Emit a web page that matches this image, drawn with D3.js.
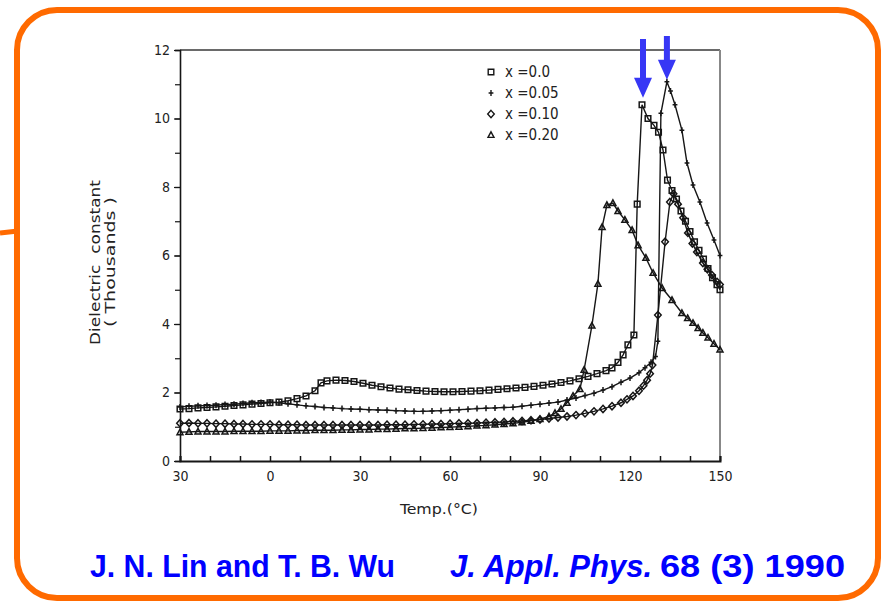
<!DOCTYPE html>
<html>
<head>
<meta charset="utf-8">
<script src="https://cdn.jsdelivr.net/npm/d3@7"></script>
<style>
  html, body { margin: 0; padding: 0; background: #ffffff; }
  svg { display: block; }
  .tick text { font-family: "DejaVu Sans", sans-serif; font-stretch: condensed; }
</style>
</head>
<body>
<svg id="chart" width="886" height="608"></svg>
<script>
// ---------------- DATA ----------------
const seriesNames = ["x =0.0", "x =0.05", "x =0.10", "x =0.20"];

// x = 0.0 (squares)
const tempX00 = [-30,-27,-24,-21,-18,-15,-12,-9,-6,-3,0,3,6,9,12,15,17,19,22,25,28,31,34,37,40,43,46,49,52,55,58,61,64,67,70,73,76,79,82,85,88,91,94,97,100,103,106,109,112,114,116,117.7,119.3,121.3,122.4,124,126,128,129.5,131,132.5,134,135.5,137,138.5,140,141.5,143,144.5,146,147.5,149,150];
const valX00  = [1.52,1.53,1.55,1.56,1.58,1.60,1.62,1.64,1.66,1.68,1.70,1.72,1.76,1.82,1.90,2.05,2.28,2.34,2.36,2.35,2.32,2.27,2.21,2.17,2.13,2.10,2.08,2.06,2.04,2.03,2.02,2.02,2.03,2.04,2.05,2.07,2.09,2.11,2.13,2.15,2.18,2.21,2.25,2.29,2.34,2.40,2.47,2.55,2.64,2.72,2.88,3.10,3.39,3.68,7.50,10.40,10.00,9.80,9.60,9.08,8.20,7.90,7.65,7.30,7.00,6.70,6.40,6.15,5.90,5.62,5.35,5.15,5.00];

// x = 0.05 (plus)
const tempX05 = [-30,-27,-24,-21,-18,-15,-12,-9,-6,-3,0,3,6,9,12,15,18,21,24,27,30,33,36,39,42,45,48,51,54,57,60,63,66,69,72,75,78,81,84,87,90,93,96,99,102,105,108,111,114,117,120,123,125,127,128.5,129.3,130.3,132.3,133.5,135,137.3,139,141,143.3,145.7,148,150];
const valX05  = [1.58,1.60,1.61,1.62,1.63,1.65,1.66,1.68,1.70,1.71,1.72,1.70,1.67,1.64,1.61,1.59,1.56,1.55,1.53,1.52,1.51,1.50,1.49,1.48,1.47,1.46,1.45,1.45,1.46,1.47,1.48,1.50,1.51,1.53,1.54,1.55,1.56,1.57,1.60,1.63,1.66,1.69,1.72,1.78,1.84,1.91,1.98,2.07,2.17,2.30,2.42,2.58,2.72,2.88,3.05,3.50,10.15,11.07,10.80,10.40,9.66,8.70,8.06,7.56,6.95,6.45,6.00];

// x = 0.10 (diamonds)
const tempX10 = [-30,-27,-24,-21,-18,-15,-12,-9,-6,-3,0,3,6,9,12,15,18,21,24,27,30,33,36,39,42,45,48,51,54,57,60,63,66,69,72,75,78,81,84,87,90,93,96,99,102,105,108,111,114,117,119,121,123,124.5,125.7,126.7,127.5,129.3,131.7,133.3,134.5,136,137.7,139.3,140.8,142.3,144.3,145.8,147.3,149,150];
const valX10  = [1.10,1.11,1.10,1.10,1.09,1.09,1.08,1.08,1.07,1.07,1.07,1.06,1.06,1.06,1.05,1.05,1.05,1.05,1.05,1.05,1.05,1.05,1.05,1.06,1.06,1.06,1.07,1.07,1.08,1.08,1.09,1.10,1.10,1.11,1.12,1.13,1.14,1.16,1.17,1.19,1.21,1.24,1.27,1.30,1.34,1.39,1.45,1.52,1.60,1.70,1.80,1.90,2.05,2.20,2.36,2.55,2.80,4.26,6.40,7.56,7.80,7.50,7.10,6.66,6.35,6.10,5.78,5.60,5.43,5.23,5.15];

// x = 0.20 (triangles)
const tempX20 = [-30,-27,-24,-21,-18,-15,-12,-9,-6,-3,0,3,6,9,12,15,18,21,24,27,30,33,36,39,42,45,48,51,54,57,60,63,66,69,72,75,78,81,84,87,90,93,95,97,99,101,103.3,104.7,107.3,109.3,110.7,112.3,114.3,116,118.3,120.7,122.7,125.3,127.7,130.7,134,137.3,139.2,141,142.7,144.3,146,148,150];
const valX20  = [0.84,0.85,0.86,0.86,0.86,0.86,0.87,0.87,0.87,0.87,0.88,0.88,0.88,0.89,0.89,0.90,0.90,0.90,0.91,0.91,0.92,0.92,0.93,0.93,0.94,0.95,0.95,0.96,0.97,0.98,0.99,1.00,1.01,1.03,1.04,1.06,1.08,1.10,1.13,1.17,1.22,1.30,1.40,1.52,1.70,1.90,2.10,2.66,3.95,5.17,6.83,7.47,7.53,7.30,7.04,6.74,6.30,5.93,5.49,5.05,4.70,4.32,4.17,4.03,3.88,3.74,3.60,3.42,3.25];

// Axes
const xTickValues = [-30, 0, 30, 60, 90, 120, 150];
const xTickLabels = ["30", "0", "30", "60", "90", "120", "150"];
const xMinorTicks = [-30,-20,-10,0,10,20,30,40,50,60,70,80,90,100,110,120,130,140,150];
const yTickValues = [0, 2, 4, 6, 8, 10, 12];
const yTickLabels = ["0", "2", "4", "6", "8", "10", "12"];
const yMinorTicks = [0,1,2,3,4,5,6,7,8,9,10,11,12];

const xTitle = "Temp.(°C)";
const yTitle1 = "Dielectric  constant";
const yTitle2 = "( Thousands )";
const citeAuthors = "J. N. Lin and T. B. Wu";
const citeJournal = "J. Appl. Phys.";
const citeVolume = "68 (3) 1990";

// ---------------- DRAWING ----------------
const svg = d3.select("#chart");
const x = d3.scaleLinear().domain([-30, 150]).range([180, 720]);
const y = d3.scaleLinear().domain([0, 12]).range([461, 50]);
const ink = "#161616";
const labelFont = "DejaVu Sans, sans-serif";

// Orange rounded frame
svg.append("rect")
  .attr("x", 17).attr("y", 10).attr("width", 861).attr("height", 588)
  .attr("rx", 40).attr("ry", 40)
  .attr("fill", "none").attr("stroke", "#ff6a00").attr("stroke-width", 6);
svg.append("path")
  .attr("d", "M0,233 L18,231")
  .attr("fill", "none").attr("stroke", "#ff6a00").attr("stroke-width", 5);

// Frame (top and right, grey)
svg.append("line").attr("x1", x(-30)).attr("x2", x(150)).attr("y1", y(12)).attr("y2", y(12))
  .attr("stroke", "#6a6a6a").attr("stroke-width", 2);
svg.append("line").attr("x1", x(150)).attr("x2", x(150)).attr("y1", y(12)).attr("y2", y(0))
  .attr("stroke", "#888").attr("stroke-width", 2);

// X axis
const gx = svg.append("g").attr("transform", `translate(0,${y(0)})`);
gx.call(d3.axisBottom(x).tickValues(xMinorTicks).tickSize(-5).tickFormat(""));
gx.select(".domain").attr("stroke", ink).attr("stroke-width", 2);
gx.selectAll(".tick line").attr("stroke", ink).attr("stroke-width", 1.5);
const gxl = svg.append("g").attr("transform", `translate(0,${y(0)})`);
gxl.call(d3.axisBottom(x).tickValues(xTickValues).tickSize(0).tickPadding(10)
  .tickFormat((d, i) => xTickLabels[i]));
gxl.select(".domain").remove();
gxl.selectAll(".tick text").attr("font-size", 14).attr("fill", "#222");

// Y axis
const gy = svg.append("g").attr("transform", `translate(${x(-30)},0)`);
gy.call(d3.axisLeft(y).tickValues(yMinorTicks).tickSize(5).tickFormat(""));
gy.select(".domain").attr("stroke", ink).attr("stroke-width", 1.6);
gy.selectAll(".tick line").attr("stroke", ink).attr("stroke-width", 1.2);
const gyl = svg.append("g").attr("transform", `translate(${x(-30)},0)`);
gyl.call(d3.axisLeft(y).tickValues(yTickValues).tickSize(6).tickPadding(4)
  .tickFormat((d, i) => yTickLabels[i]));
gyl.select(".domain").remove();
gyl.selectAll(".tick line").attr("stroke", ink).attr("stroke-width", 1.2);
gyl.selectAll(".tick text").attr("font-size", 14).attr("fill", "#222");

// Axis titles
svg.append("text").attr("x", 400).attr("y", 514)
  .attr("font-family", labelFont).attr("font-stretch", "condensed")
  .attr("font-size", 14).attr("fill", "#222")
  .attr("textLength", 78).attr("lengthAdjust", "spacingAndGlyphs").text(xTitle);
svg.append("text").attr("transform", "translate(100,345) rotate(-90)")
  .attr("font-family", labelFont).attr("font-stretch", "condensed")
  .attr("font-size", 14).attr("fill", "#222").attr("xml:space", "preserve")
  .attr("textLength", 165).attr("lengthAdjust", "spacingAndGlyphs").text(yTitle1);
svg.append("text").attr("transform", "translate(115,327) rotate(-90)")
  .attr("font-family", labelFont).attr("font-stretch", "condensed")
  .attr("font-size", 14).attr("fill", "#222")
  .attr("textLength", 130).attr("lengthAdjust", "spacingAndGlyphs").text(yTitle2);

// Marker shapes
const markers = [
  (cx, cy) => `M${cx-2.8},${cy-2.8}h5.6v5.6h-5.6Z`,
  (cx, cy) => `M${cx-2.4},${cy}h4.8M${cx},${cy-3}v6`,
  (cx, cy) => `M${cx},${cy-3.6}L${cx+3.3},${cy}L${cx},${cy+3.6}L${cx-3.3},${cy}Z`,
  (cx, cy) => `M${cx},${cy-3.2}L${cx+3},${cy+2.4}L${cx-3},${cy+2.4}Z`
];

const allSeries = [
  { t: tempX00, v: valX00 },
  { t: tempX05, v: valX05 },
  { t: tempX10, v: valX10 },
  { t: tempX20, v: valX20 }
];

const line = d3.line().x(d => x(d[0])).y(d => y(d[1]));
allSeries.forEach((s, k) => {
  const pts = s.t.map((t, i) => [t, s.v[i]]);
  svg.append("path").datum(pts).attr("d", line)
    .attr("fill", "none").attr("stroke", ink).attr("stroke-width", 1.4);
  svg.append("g").selectAll("path").data(pts).join("path")
    .attr("d", d => markers[k](x(d[0]), y(d[1])))
    .attr("fill", "none").attr("stroke", ink).attr("stroke-width", 1.5);
});

// Legend
const legendX = 491, legendY = 72, legendStep = 21;
seriesNames.forEach((name, k) => {
  const cy = legendY + k * legendStep;
  svg.append("path").attr("d", markers[k](legendX, cy))
    .attr("fill", "none").attr("stroke", ink).attr("stroke-width", 1.4);
  svg.append("text").attr("x", legendX + 14).attr("y", cy + 5)
    .attr("font-family", labelFont).attr("font-stretch", "condensed")
    .attr("font-size", 15).attr("fill", "#222").text(name);
});

// Blue arrows pointing to the two peaks
const peakIdx0 = valX00.indexOf(d3.max(valX00));
const peakIdx1 = valX05.indexOf(d3.max(valX05));
const arrows = [
  { px: x(tempX00[peakIdx0]) + 1, tip: y(valX00[peakIdx0]) - 7, top: 39 },
  { px: x(tempX05[peakIdx1]), tip: y(valX05[peakIdx1]) - 2, top: 36 }
];
arrows.forEach(a => {
  const headH = 20, headW = 9, shaftW = 3;
  svg.append("path")
    .attr("d", `M${a.px-shaftW},${a.top}L${a.px+shaftW},${a.top}L${a.px+shaftW},${a.tip-headH}` +
               `L${a.px+headW},${a.tip-headH}L${a.px},${a.tip}L${a.px-headW},${a.tip-headH}` +
               `L${a.px-shaftW},${a.tip-headH}Z`)
    .attr("fill", "#3737f5");
});

// Citation
const citeFont = "'Liberation Sans Narrow', 'Liberation Sans', Arial, sans-serif";
svg.append("text").attr("x", 90).attr("y", 577)
  .attr("font-family", citeFont).attr("font-weight", "bold").attr("font-size", 32)
  .attr("fill", "#0000ff").attr("textLength", 305).attr("lengthAdjust", "spacingAndGlyphs")
  .text(citeAuthors);
svg.append("text").attr("x", 450).attr("y", 577)
  .attr("font-family", citeFont).attr("font-weight", "bold").attr("font-style", "italic").attr("font-size", 32)
  .attr("fill", "#0000ff").attr("textLength", 202).attr("lengthAdjust", "spacingAndGlyphs")
  .text(citeJournal);
svg.append("text").attr("x", 660).attr("y", 577)
  .attr("font-family", citeFont).attr("font-weight", "bold").attr("font-size", 32)
  .attr("fill", "#0000ff").attr("textLength", 185).attr("lengthAdjust", "spacingAndGlyphs")
  .text(citeVolume);
</script>
</body>
</html>
